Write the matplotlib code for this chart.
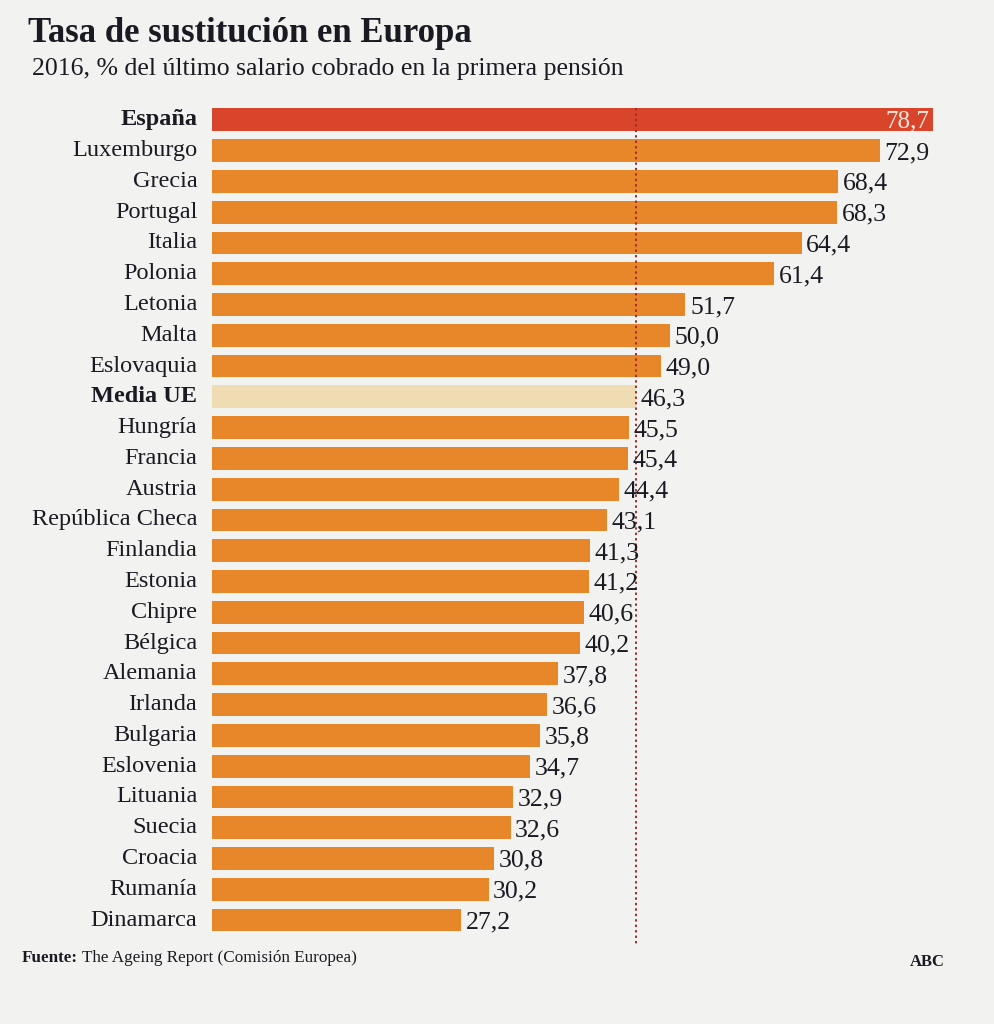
import matplotlib
matplotlib.use("Agg")
import matplotlib.pyplot as plt

countries = ["España", "Luxemburgo", "Grecia", "Portugal", "Italia", "Polonia",
             "Letonia", "Malta", "Eslovaquia", "Media UE", "Hungría", "Francia",
             "Austria", "República Checa", "Finlandia", "Estonia", "Chipre",
             "Bélgica", "Alemania", "Irlanda", "Bulgaria", "Eslovenia",
             "Lituania", "Suecia", "Croacia", "Rumanía", "Dinamarca"]
values = [78.7, 72.9, 68.4, 68.3, 64.4, 61.4, 51.7, 50.0, 49.0, 46.3, 45.5, 45.4,
          44.4, 43.1, 41.3, 41.2, 40.6, 40.2, 37.8, 36.6, 35.8, 34.7, 32.9, 32.6,
          30.8, 30.2, 27.2]
eu_average = 46.3

title = "Tasa de sustitución en Europa"
subtitle = "2016, % del último salario cobrado en la primera pensión"
source_bold = "Fuente:"
source_text = " The Ageing Report (Comisión Europea)"
brand = "ABC"

SERIF = ["Liberation Serif", "DejaVu Serif"]
BG = "#f2f2f0"
ORANGE = "#e8872a"
RED = "#d8452a"
BEIGE = "#f0dcb2"
TEXT = "#1a1a22"

fig = plt.figure(figsize=(9.94, 10.24), dpi=100, facecolor=BG)
ax = fig.add_axes([212/994, 0.0865, 0.737, 0.8115])
ax.set_facecolor(BG)

n = len(countries)
ypos = list(range(n))
colors = []
for c in countries:
    if c == "España":
        colors.append(RED)
    elif c == "Media UE":
        colors.append(BEIGE)
    else:
        colors.append(ORANGE)

ax.barh(ypos, values, height=0.74, color=colors, edgecolor="none", zorder=2)
ax.set_ylim(n - 0.5, -0.5)
ax.set_xlim(0, 80)
ax.axis("off")

# Dotted EU-average line
ax.plot([eu_average, eu_average], [-0.4, n - 0.15], linestyle=(0, (1.2, 1.6)),
        color="#a52a2a", linewidth=1.4, zorder=3, clip_on=False)

for i, (c, v) in enumerate(zip(countries, values)):
    bold = c in ("España", "Media UE")
    ax.text(-1.6, i, c, ha="right", va="center", fontsize=17.5,
            fontweight="bold" if bold else "normal", family=SERIF, color=TEXT)
    label = f"{v:.1f}".replace(".", ",")
    if c == "España":
        ax.text(v - 0.4, i + 0.05, label, ha="right", va="center", fontsize=18,
                color="#fbe9e0", family=SERIF)
    else:
        ax.text(v + 0.5, i + 0.08, label, ha="left", va="center", fontsize=18.5,
                color=TEXT, family=SERIF)

fig.text(28/994, 1 - 33/1024, title, ha="left", va="center", fontsize=25,
         fontweight="bold", family=SERIF, color=TEXT)
fig.text(32/994, 1 - 69/1024, subtitle, ha="left", va="center", fontsize=18.5,
         family=SERIF, color=TEXT)

t = fig.text(22/994, 1 - 958/1024, source_bold, ha="left", va="center",
             fontsize=12.3, fontweight="bold", family=SERIF, color=TEXT)
fig.canvas.draw()
bb = t.get_window_extent()
fig.text(bb.x1 / fig.bbox.width, 1 - 958/1024, source_text, ha="left",
         va="center", fontsize=12.3, family=SERIF, color=TEXT)
fig.text(945/994, 1 - 962/1024, brand, ha="right", va="center", fontsize=12,
         fontweight="bold", family=SERIF, color=TEXT)

fig.savefig("out.png", dpi=100, facecolor=BG)
